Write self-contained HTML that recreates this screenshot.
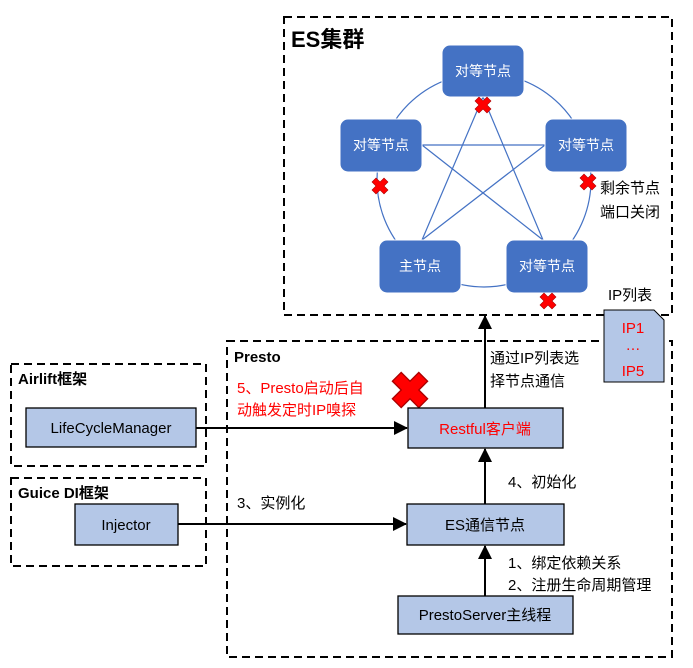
<!DOCTYPE html>
<html><head><meta charset="utf-8"><style>
html,body{margin:0;padding:0;background:#fff;}
svg{display:block;font-family:"Liberation Sans","Noto Sans CJK SC",sans-serif;}
</style></head><body>
<svg width="693" height="668" viewBox="0 0 693 668" xmlns="http://www.w3.org/2000/svg">
<defs>
<marker id="ah" markerWidth="14" markerHeight="14" refX="13" refY="7" orient="auto" markerUnits="userSpaceOnUse"><path d="M0,0 L14,7 L0,14 z" fill="#000"/></marker>
<g id="xm"><path d="M-8,-4 L-4,-8 L0,-4 L4,-8 L8,-4 L4,0 L8,4 L4,8 L0,4 L-4,8 L-8,4 L-4,0z" fill="#f00" stroke="#a00" stroke-width="0.6"/></g>
</defs>
<g fill="none" stroke="#000" stroke-width="2" stroke-dasharray="8,5">
<rect x="284" y="17" width="388" height="298"/>
<rect x="227" y="341" width="445" height="316"/>
<rect x="11" y="364" width="195" height="102"/>
<rect x="11" y="478" width="195" height="88"/>
</g>
<circle cx="484" cy="180" r="107" fill="none" stroke="#4472C4" stroke-width="1.2"/>
<g stroke="#4472C4" stroke-width="1.2">
<line x1="483" y1="97" x2="422" y2="240"/><line x1="483" y1="97" x2="543" y2="240"/>
<line x1="422" y1="145" x2="545" y2="145"/><line x1="422" y1="145" x2="543" y2="240"/>
<line x1="545" y1="145" x2="422" y2="240"/>
</g>
<g fill="#4472C4" stroke="#fff" stroke-width="1">
<rect x="442" y="45" width="82" height="52" rx="8"/>
<rect x="340" y="119" width="82" height="53" rx="8"/>
<rect x="545" y="119" width="82" height="53" rx="8"/>
<rect x="379" y="240" width="82" height="53" rx="8"/>
<rect x="506" y="240" width="82" height="53" rx="8"/>
</g>
<g fill="#fff" font-size="14" text-anchor="middle">
<text x="483" y="76">对等节点</text><text x="381" y="150">对等节点</text>
<text x="586" y="150">对等节点</text><text x="420" y="271">主节点</text><text x="547" y="271">对等节点</text>
</g>
<text x="291" y="47" font-size="22" font-weight="bold">ES集群</text>
<text x="600" y="193" font-size="15">剩余节点</text><text x="600" y="217" font-size="15">端口关闭</text>
<text x="608" y="300" font-size="15">IP列表</text>
<path d="M604,310 L654,310 L664,320 L664,382 L604,382z" fill="#B4C7E7" stroke="#000" stroke-width="1"/>
<g fill="#f00" font-size="15" text-anchor="middle"><text x="633" y="333">IP1</text><text x="633" y="350">…</text><text x="633" y="376">IP5</text></g>
<use href="#xm" x="483" y="105"/><use href="#xm" x="380" y="186"/><use href="#xm" x="588" y="182"/><use href="#xm" x="548" y="301"/>
<g transform="translate(410,390) scale(2.2)"><use href="#xm"/></g>
<g fill="#B4C7E7" stroke="#000" stroke-width="1.3">
<rect x="26" y="408" width="170" height="39"/>
<rect x="75" y="504" width="103" height="41"/>
<rect x="408" y="408" width="155" height="40"/>
<rect x="407" y="504" width="157" height="41"/>
<rect x="398" y="596" width="175" height="38"/>
</g>
<g font-size="15" text-anchor="middle">
<text x="111" y="433">LifeCycleManager</text><text x="126" y="530">Injector</text>
<text x="485" y="434" fill="#f00">Restful客户端</text><text x="485" y="530">ES通信节点</text><text x="485" y="620">PrestoServer主线程</text>
</g>
<g stroke="#000" stroke-width="2" marker-end="url(#ah)">
<line x1="485" y1="596" x2="485" y2="546"/><line x1="485" y1="504" x2="485" y2="449"/>
<line x1="485" y1="408" x2="485" y2="316"/>
<line x1="196" y1="428" x2="407" y2="428"/><line x1="178" y1="524" x2="406" y2="524"/>
</g>
<g font-size="15">
<text x="234" y="362" font-weight="bold">Presto</text>
<text x="18" y="384" font-weight="bold">Airlift框架</text>
<text x="18" y="498" font-weight="bold">Guice DI框架</text>
<text x="490" y="363">通过IP列表选</text><text x="490" y="386">择节点通信</text>
<text x="508" y="487">4、初始化</text>
<text x="508" y="568">1、绑定依赖关系</text><text x="508" y="590">2、注册生命周期管理</text>
<text x="237" y="508">3、实例化</text>
<text x="237" y="393" fill="#f00">5、Presto启动后自</text><text x="237" y="415" fill="#f00">动触发定时IP嗅探</text>
</g>
</svg>
</body></html>
